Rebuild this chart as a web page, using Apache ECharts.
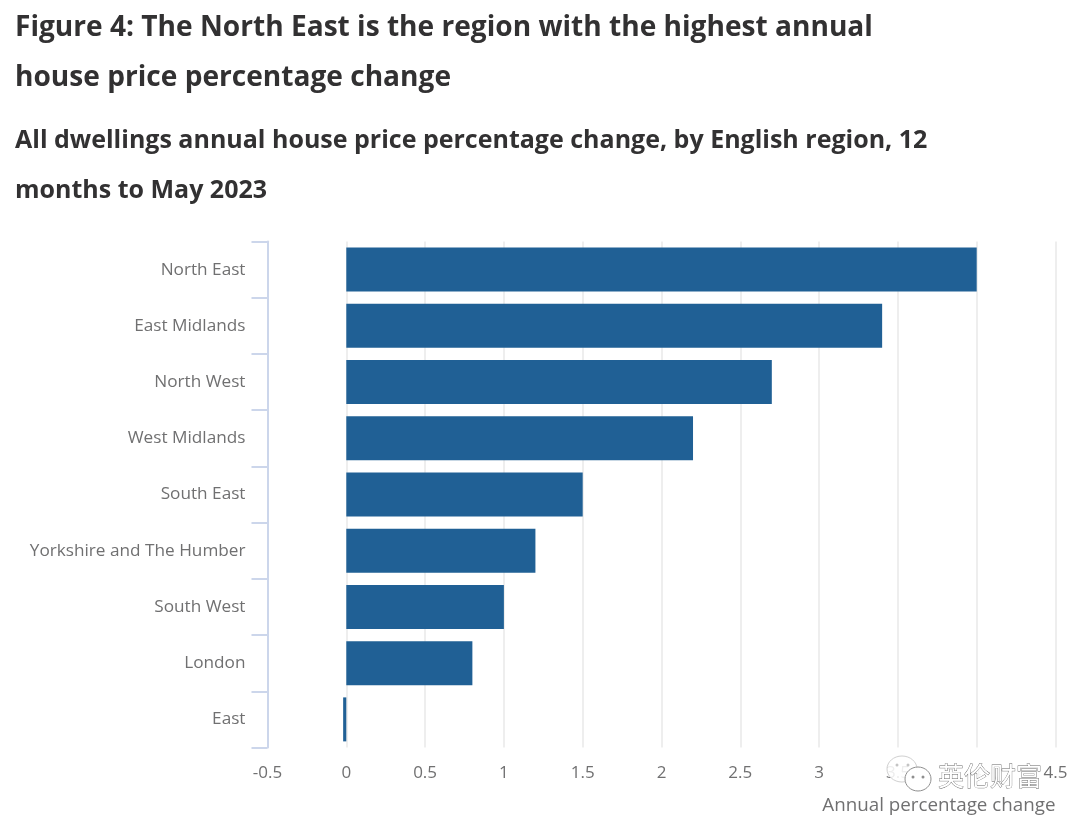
<!DOCTYPE html>
<html>
<head>
<meta charset="utf-8">
<style>
  html, body { margin: 0; padding: 0; background: #fff; }
  #main { width: 1080px; height: 824px; }
</style>
<script src="https://cdn.jsdelivr.net/npm/echarts@6/dist/echarts.min.js"></script>
</head>
<body>
<div id="main"></div>
<script>
var regions = ['North East', 'East Midlands', 'North West', 'West Midlands', 'South East', 'Yorkshire and The Humber', 'South West', 'London', 'East'];
var changes = [4.0, 3.4, 2.7, 2.2, 1.5, 1.2, 1.0, 0.8, -0.02];
var titleLines = ['Figure 4: The North East is the region with the highest annual', 'house price percentage change'];
var subtitleLines = ['All dwellings annual house price percentage change, by English region, 12', 'months to May 2023'];

var fontName = '"Open Sans", sans-serif';
var myChart = echarts.init(document.getElementById('main'), null, { renderer: 'canvas' });

myChart.setOption({
    backgroundColor: '#fff',
    animation: false,
    title: [
        {
            text: titleLines.join('\n'),
            left: 10,
            top: -2,
            textStyle: { fontFamily: fontName, fontSize: 28.1, fontWeight: 'bold', color: '#323132', lineHeight: 50 }
        },
        {
            text: subtitleLines.join('\n'),
            left: 10,
            top: 111,
            textStyle: { fontFamily: fontName, fontSize: 25, fontWeight: 'bold', color: '#323132', lineHeight: 50 }
        }
    ],
    grid: { left: 267.5, right: 24.5, top: 241.5, bottom: 76.5 },
    xAxis: {
        type: 'value',
        min: -0.5,
        max: 4.5,
        interval: 0.5,
        name: 'Annual percentage change',
        nameLocation: 'end',
        nameGap: 0,
        nameTextStyle: {
            fontFamily: fontName, fontSize: 18.8, color: '#707071',
            align: 'right', verticalAlign: 'top', padding: [49, 0, 0, 0]
        },
        axisLine: { show: false },
        axisTick: { show: false },
        axisLabel: { fontFamily: fontName, fontSize: 17, color: '#707071', margin: 17, showMinLabel: true, showMaxLabel: true },
        splitLine: { show: true, lineStyle: { color: '#e9e9e9', width: 1.5 } }
    },
    yAxis: {
        type: 'category',
        data: regions,
        inverse: true,
        axisLine: { onZero: false, lineStyle: { color: '#ccd6eb', width: 2 } },
        axisTick: { show: true, length: 16, lineStyle: { color: '#ccd6eb', width: 2 } },
        axisLabel: { fontFamily: fontName, fontSize: 17.2, color: '#707071', margin: 22, padding: [4, 0, 0, 0] }
    },
    series: [
        {
            name: 'Annual percentage change',
            type: 'bar',
            data: changes,
            barWidth: 44,
            itemStyle: { color: '#206095' }
        }
    ],
    // watermark sitting over the 3.5 and 4 tick labels
    graphic: {
        type: 'group',
        z: 100,
        children: [
            {
                type: 'ellipse',
                z: 100,
                shape: { cx: 902, cy: 769, rx: 15, ry: 13 },
                style: { fill: 'rgba(255,255,255,0.88)', stroke: '#d0d0d0', lineWidth: 1 }
            },
            {
                type: 'circle', z: 100, shape: { cx: 897, cy: 765, r: 1.5 }, style: { fill: '#c4c4c4' }
            },
            {
                type: 'circle', z: 100, shape: { cx: 908, cy: 765, r: 1.5 }, style: { fill: '#c4c4c4' }
            },
            {
                type: 'ellipse',
                z: 100,
                shape: { cx: 918, cy: 779, rx: 13, ry: 12 },
                style: { fill: 'rgba(255,255,255,0.95)', stroke: '#8f8f8f', lineWidth: 1 }
            },
            {
                type: 'circle', z: 100, shape: { cx: 913, cy: 777, r: 1.5 }, style: { fill: '#8f8f8f' }
            },
            {
                type: 'circle', z: 100, shape: { cx: 923, cy: 777, r: 1.5 }, style: { fill: '#8f8f8f' }
            },
            {
                type: 'rect',
                z: 100,
                shape: { x: 936, y: 763, width: 104, height: 27 },
                style: { fill: 'rgba(255,255,255,0.92)' }
            },
            {
                type: 'text',
                z: 100,
                x: 938,
                y: 763,
                style: {
                    text: '英伦财富',
                    fontFamily: '"Noto Sans CJK SC"',
                    fontSize: 26,
                    fill: '#fff',
                    stroke: '#666',
                    lineWidth: 0.8
                }
            }
        ]
    }
});
</script>
</body>
</html>
